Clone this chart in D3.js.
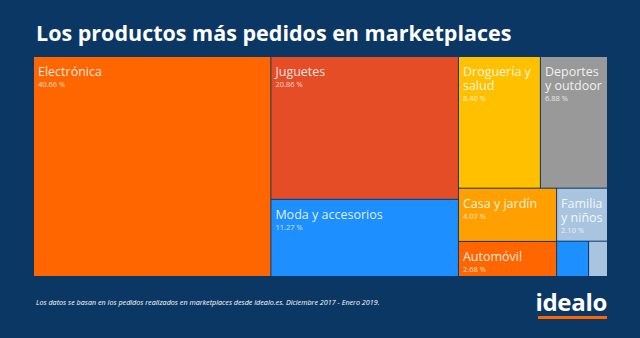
<!DOCTYPE html>
<html>
<head>
<meta charset="utf-8">
<script src="https://cdn.jsdelivr.net/npm/d3@7"></script>
<style>
  html, body { margin: 0; padding: 0; background: #0b3764; }
  svg { display: block; font-family: "Open Sans", sans-serif; }
</style>
</head>
<body>
<div id="chart"></div>
<script>
// datos (porcentaje de pedidos)
const categories = ["Electrónica", "Juguetes", "Moda y accesorios", "Droguería y salud",
    "Deportes y outdoor", "Casa y jardín", "Automóvil", "Familia y niños", "Otros 1", "Otros 2"];
const values = [40.66, 20.86, 11.27, 8.40, 6.88, 4.07, 2.68, 2.10, 0.88, 0.52];
const showLabel = [true, true, true, true, true, true, true, true, false, false];
const colors = ["#ff6600", "#e44d26", "#1e8fff", "#ffc000", "#999999",
    "#ffa000", "#ff6600", "#a9c4df", "#1e8fff", "#a9c4df"];

const width = 640, height = 338;
const box = {x: 34, y: 57, w: 573, h: 219};

const svg = d3.select("#chart").append("svg")
    .attr("width", width)
    .attr("height", height);

svg.append("rect")
    .attr("width", width).attr("height", height)
    .attr("fill", "#0b3764");

svg.append("text")
    .attr("x", 36).attr("y", 41)
    .attr("fill", "#fff")
    .attr("font-size", 21.5)
    .attr("font-weight", 700)
    .text("Los productos más pedidos en marketplaces");

const rootData = {
    name: "root",
    children: categories.map((c, i) => ({name: c, value: values[i], color: colors[i], label: showLabel[i]}))
};

const root = d3.hierarchy(rootData)
    .sum(d => d.value || 0)
    .sort((a, b) => b.value - a.value);

d3.treemap()
    .size([box.w, box.h])
    .paddingInner(1)
    (root);

const g = svg.append("g")
    .attr("transform", `translate(${box.x}, ${box.y})`);

const cell = g.selectAll("g.cell")
    .data(root.leaves())
    .enter()
    .append("g")
    .attr("class", "cell")
    .attr("transform", d => `translate(${d.x0}, ${d.y0})`);

cell.append("rect")
    .attr("width", d => d.x1 - d.x0)
    .attr("height", d => d.y1 - d.y0)
    .attr("fill", d => d.data.color);

const fmt = d3.format(".2f");
const lineH = 14;

cell.filter(d => d.data.label).each((d, i, nodes) => {
    const c = d3.select(nodes[i]);
    const maxW = d.x1 - d.x0 - 8;

    // partir el nombre en líneas si no cabe (un <text> por línea)
    const words = d.data.name.split(" ");
    let line = [];
    let lines = 0;
    let t = c.append("text")
        .attr("x", 4)
        .attr("y", 19)
        .attr("fill", "#fff")
        .attr("fill-opacity", 0.88)
        .attr("font-size", 12.5);
    words.forEach(w => {
        line.push(w);
        t.text(line.join(" "));
        if (t.node().getComputedTextLength() > maxW && line.length > 1) {
            line.pop();
            t.text(line.join(" "));
            line = [w];
            lines++;
            t = c.append("text")
                .attr("x", 4)
                .attr("y", 19 + lines * lineH)
                .attr("fill", "#fff")
                .attr("fill-opacity", 0.88)
                .attr("font-size", 12.5)
                .text(w);
        }
    });

    c.append("text")
        .attr("x", 4)
        .attr("y", 19 + lines * lineH + 11)
        .attr("fill", "#fff")
        .attr("fill-opacity", 0.8)
        .attr("font-size", 7.5)
        .text(`${fmt(d.data.value)} %`);
});

svg.append("text")
    .attr("x", 36).attr("y", 305)
    .attr("fill", "#fff")
    .attr("font-size", 7.2)
    .attr("font-style", "italic")
    .text("Los datos se basan en los pedidos realizados en marketplaces desde idealo.es. Diciembre 2017 - Enero 2019.");

svg.append("text")
    .attr("x", 607).attr("y", 311)
    .attr("text-anchor", "end")
    .attr("fill", "#fff")
    .attr("font-size", 24)
    .attr("font-weight", 700)
    .attr("letter-spacing", -0.3)
    .text("idealo");

svg.append("rect")
    .attr("x", 538).attr("y", 316)
    .attr("width", 69).attr("height", 3)
    .attr("fill", "#ff6600");
</script>
</body>
</html>
